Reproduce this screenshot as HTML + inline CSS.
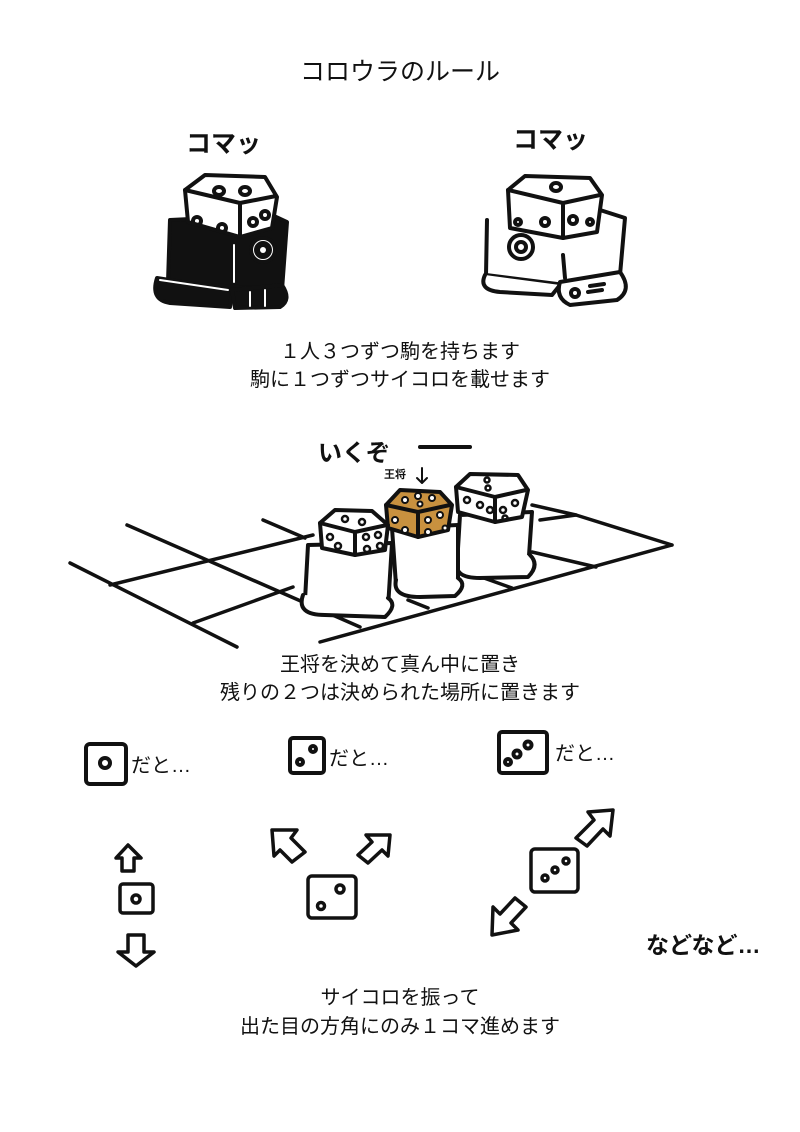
<!DOCTYPE html>
<html><head><meta charset="utf-8"><style>
html,body{margin:0;padding:0;background:#fff;}
body{width:800px;height:1132px;overflow:hidden;position:relative;font-family:"Liberation Sans","Noto Sans CJK JP",sans-serif;}
.t{position:absolute;left:0;width:800px;text-align:center;color:#111;font-size:20px;line-height:28px;}
.h{position:absolute;color:#111;font-weight:bold;white-space:nowrap;}
svg{position:absolute;left:0;top:0;}
</style></head><body>
<svg width="800" height="1132" viewBox="0 0 800 1132" fill="none" stroke="#111" stroke-width="4" stroke-linecap="round" stroke-linejoin="round">
<!-- left robot (black) -->
<g>
<path d="M170 220 L168 282 L282 290 L287 222 L272 215 Z" fill="#111"/>
<path d="M157 278 Q150 300 170 303 L230 307 L232 290 Z" fill="#111"/>
<path d="M232 290 L282 285 Q292 300 280 307 L235 308 Z" fill="#111"/>
<path d="M160 280 L228 290" stroke="#fff" stroke-width="2"/>
<path d="M250 292 L250 306 M265 290 L265 306" stroke="#fff" stroke-width="2"/>
<path d="M185 190 L205 175 L265 177 L277 197 L272 228 L240 237 L188 222 Z" fill="#fff"/>
<path d="M185 190 L240 203 L276 196 M240 203 L240 236"/>
<ellipse cx="219" cy="191" rx="5" ry="4"/><ellipse cx="245" cy="191" rx="5" ry="4"/>
<circle cx="197" cy="221" r="4"/><circle cx="222" cy="228" r="4"/><circle cx="253" cy="222" r="4"/><circle cx="265" cy="215" r="4"/>
<circle cx="263" cy="250" r="12" fill="#fff"/><circle cx="263" cy="250" r="7" fill="#111"/><circle cx="263" cy="250" r="3" fill="#fff" stroke="none"/>
<path d="M234 245 L234 282" stroke="#fff" stroke-width="2"/>
</g>
<!-- right robot (outline) -->
<g>
<path d="M487 220 L486 275 L565 285 L620 275 L625 218 L600 210" fill="#fff"/>
<path d="M485 275 Q478 290 500 292 L552 295 L560 285" fill="#fff"/>
<path d="M560 282 L620 272 Q633 290 617 300 L570 305 Q555 298 560 282 Z" fill="#fff"/>
<circle cx="575" cy="293" r="4"/><path d="M588 292 L602 290 M590 286 L604 284"/>
<path d="M508 190 L525 176 L590 178 L602 195 L597 232 L563 238 L510 228 Z" fill="#fff"/>
<path d="M508 190 L563 203 L600 195 M563 203 L563 238"/>
<ellipse cx="556" cy="187" rx="5" ry="4"/>
<circle cx="518" cy="222" r="3"/><circle cx="545" cy="222" r="4"/><circle cx="573" cy="220" r="4"/><circle cx="590" cy="222" r="3"/>
<circle cx="521" cy="247" r="12" fill="#fff"/><circle cx="521" cy="247" r="5"/>
<path d="M563 255 L565 278"/>
</g>
<!-- board -->
<g stroke-width="3.5">
<path d="M70 563 L237 647"/>
<path d="M127 525 L360 627"/>
<path d="M263 520 L305 538"/>
<path d="M110 585 L313 535"/>
<path d="M193 623 L293 587"/>
<path d="M320 642 L672 545"/>
<path d="M532 505 L576 515 L672 545"/>
<path d="M532 552 L596 567"/>
<path d="M484 578 L512 588"/>
<path d="M408 600 L428 608"/>
<path d="M540 520 L576 515"/>
</g>
<!-- three robots on board -->
<g>
<!-- right robot -->
<path d="M460 515 L457 565 L528 570 L532 512 Z" fill="#fff"/>
<path d="M458 560 Q452 578 480 578 L528 577 Q540 565 530 555" fill="#fff"/>
<path d="M456 487 L470 474 L518 475 L528 490 L522 517 L495 522 L458 512 Z" fill="#fff"/>
<path d="M456 487 L495 497 L526 490 M495 497 L495 522"/>
<g stroke-width="2.5"><circle cx="487" cy="480" r="2.5"/><circle cx="488" cy="488" r="2.5"/><circle cx="467" cy="500" r="3"/><circle cx="480" cy="505" r="3"/><circle cx="490" cy="510" r="3"/><circle cx="503" cy="510" r="3"/><circle cx="515" cy="503" r="3"/><circle cx="505" cy="518" r="2.5"/></g>
<!-- middle robot -->
<path d="M392 528 L396 585 L458 590 L458 525 Z" fill="#fff"/>
<path d="M396 580 Q392 597 420 597 L455 596 Q468 585 458 578" fill="#fff"/>
<path d="M386 505 L400 490 L440 492 L452 505 L448 530 L418 537 L388 528 Z" fill="#c8913f"/>
<path d="M386 505 L418 512 L450 505 M418 512 L418 537"/>
<g fill="#fff" stroke-width="2"><circle cx="405" cy="500" r="3"/><circle cx="418" cy="496" r="3"/><circle cx="432" cy="498" r="3"/><circle cx="420" cy="504" r="2.5"/><circle cx="395" cy="520" r="3"/><circle cx="405" cy="530" r="3"/><circle cx="428" cy="520" r="3"/><circle cx="440" cy="515" r="3"/><circle cx="428" cy="532" r="3"/><circle cx="445" cy="528" r="2.5"/></g>
<!-- left robot -->
<path d="M308 545 L305 600 L388 608 L392 543 Z" fill="#fff"/>
<path d="M303 595 Q296 615 325 615 L385 617 Q398 605 388 598" fill="#fff"/>
<path d="M320 523 L335 510 L372 511 L388 525 L385 550 L355 555 L322 548 Z" fill="#fff"/>
<path d="M320 523 L355 532 L387 525 M355 532 L355 555"/>
<g stroke-width="2.5"><circle cx="345" cy="519" r="3"/><circle cx="362" cy="522" r="3"/><circle cx="330" cy="537" r="3"/><circle cx="338" cy="546" r="3"/><circle cx="366" cy="537" r="3"/><circle cx="378" cy="535" r="3"/><circle cx="367" cy="549" r="3"/><circle cx="380" cy="546" r="3"/></g>
</g>
<!-- いくぞ line -->
<path d="M420 447 L470 447" stroke-width="4"/>
<!-- small arrow 王将 -->
<path d="M422 468 L422 482 M417 478 L422 483 L427 478" stroke-width="2"/>
<!-- dice icons row -->
<g stroke-width="4">
<rect x="86" y="744" width="40" height="40" rx="4"/><circle cx="105" cy="763" r="5"/>
<rect x="290" y="738" width="34" height="35" rx="3"/><circle cx="300" cy="762" r="3"/><circle cx="313" cy="749" r="3"/>
<rect x="499" y="732" width="48" height="41" rx="3"/><circle cx="508" cy="762" r="3"/><circle cx="517" cy="754" r="3.5"/><circle cx="528" cy="745" r="3.5"/>
</g>
<!-- arrows and dice -->
<g stroke-width="3.5">
<path d="M116 858 L128 845 L141 858 L134 858 L134 871 L122 871 L122 858 Z"/>
<rect x="120" y="884" width="33" height="29" rx="3"/><circle cx="136" cy="899" r="4"/>
<path d="M118 952 L136 966 L154 952 L144 952 L144 935 L128 935 L128 952 Z"/>
<path d="M272 830 L297 830 L291 838 L305 852 L292 862 L280 850 L274 856 Z"/>
<path d="M390 835 L366 835 L372 842 L358 855 L368 863 L382 850 L388 856 Z"/>
<rect x="308" y="876" width="48" height="42" rx="4"/><circle cx="321" cy="906" r="3.5"/><circle cx="340" cy="889" r="4"/>
<path d="M613 810 L588 812 L594 820 L576 838 L587 846 L603 829 L610 836 Z"/>
<rect x="531" y="849" width="47" height="43" rx="4"/><circle cx="545" cy="878" r="3"/><circle cx="555" cy="870" r="3"/><circle cx="566" cy="861" r="3"/>
<path d="M492 935 L518 930 L511 923 L526 907 L515 898 L500 914 L493 907 Z"/>
</g>
</svg>
<div class="t" style="top:56px;font-size:25px;line-height:32px;">コロウラのルール</div>
<div class="h" style="left:186px;top:124px;font-size:25px;">コマッ</div>
<div class="h" style="left:513px;top:120px;font-size:25px;">コマッ</div>
<div class="t" style="top:338px;">１人３つずつ駒を持ちます</div>
<div class="t" style="top:366px;">駒に１つずつサイコロを載せます</div>
<div class="h" style="left:318px;top:433px;font-size:24px;">いくぞ</div>
<div class="h" style="left:384px;top:466px;font-size:11px;">王将</div>
<div class="t" style="top:651px;">王将を決めて真ん中に置き</div>
<div class="t" style="top:679px;">残りの２つは決められた場所に置きます</div>
<div class="h" style="left:131px;top:749px;font-size:20px;font-weight:normal;">だと…</div>
<div class="h" style="left:329px;top:742px;font-size:20px;font-weight:normal;">だと…</div>
<div class="h" style="left:555px;top:737px;font-size:20px;font-weight:normal;">だと…</div>
<div class="h" style="left:646px;top:926px;font-size:23px;">などなど…</div>
<div class="t" style="top:984px;">サイコロを振って</div>
<div class="t" style="top:1013px;">出た目の方角にのみ１コマ進めます</div>
</body></html>
